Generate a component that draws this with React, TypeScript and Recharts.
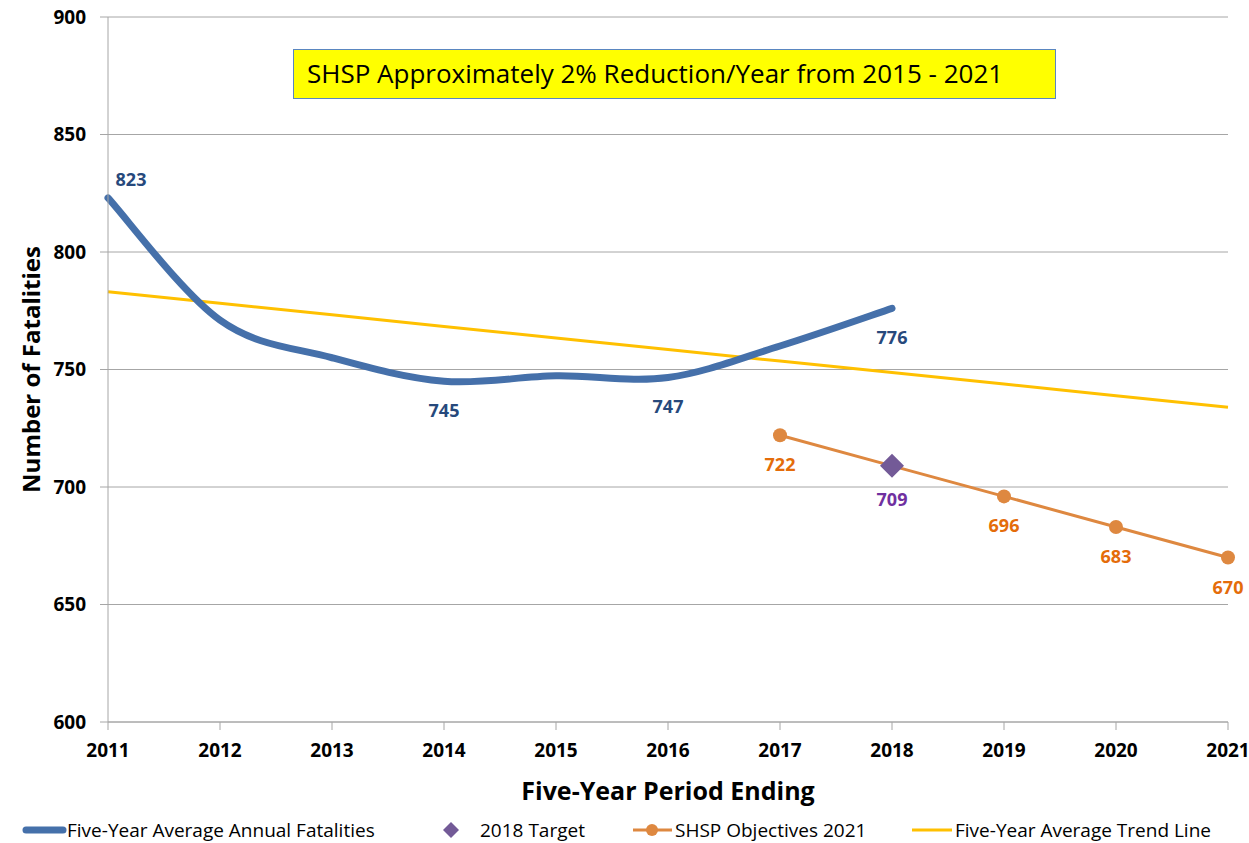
import React from "react";
import { ComposedChart, Line, XAxis, YAxis, CartesianGrid, Legend, LabelList } from "recharts";

const years = [2011, 2012, 2013, 2014, 2015, 2016, 2017, 2018, 2019, 2020, 2021];
const fatalities = [823, 771, 755, 745, 747.3, 746.6, 760, 776, null, null, null];
const target2018 = [null, null, null, null, null, null, null, 709, null, null, null];
const objectives = [null, null, null, null, null, null, 722, 709, 696, 683, 670];
const trendLine = [783.1, 778.2, 773.3, 768.3, 763.4, 758.5, 753.6, 748.7, 743.8, 738.8, 733.9];
const labelledYears = [2011, 2014, 2016, 2018];
const yTicks = [600, 650, 700, 750, 800, 850, 900];

const data = years.map((year, i) => ({
  year,
  fatal: fatalities[i],
  target: target2018[i],
  shsp: objectives[i],
  trend: trendLine[i],
}));

const FONT = "'Open Sans', 'Liberation Sans', sans-serif";
const BLUE = "#4570AA";
const BLUE_TEXT = "#27497C";
const ORANGE = "#DE8840";
const ORANGE_TEXT = "#E46C0A";
const PURPLE = "#735A97";
const PURPLE_TEXT = "#7030A0";
const YELLOW = "#FFC000";
const GRID = "#A6A6A6";

// Excel-style smoothed line (Catmull-Rom as cubic beziers)
function excelSmooth(context: any) {
  let pts: number[][] = [];
  return {
    areaStart() {},
    areaEnd() {},
    lineStart() {
      pts = [];
    },
    point(x: number, y: number) {
      pts.push([+x, +y]);
    },
    lineEnd() {
      if (!pts.length) return;
      context.moveTo(pts[0][0], pts[0][1]);
      for (let i = 0; i < pts.length - 1; i++) {
        const p0 = pts[i - 1] || pts[i];
        const p1 = pts[i];
        const p2 = pts[i + 1];
        const p3 = pts[i + 2] || p2;
        context.bezierCurveTo(
          p1[0] + (p2[0] - p0[0]) / 6,
          p1[1] + (p2[1] - p0[1]) / 6,
          p2[0] - (p3[0] - p1[0]) / 6,
          p2[1] - (p3[1] - p1[1]) / 6,
          p2[0],
          p2[1]
        );
      }
    },
  };
}

function FatalLabel(props: any) {
  const { x, y, value, index } = props;
  if (value == null || !labelledYears.includes(years[index])) return null;
  const first = index === 0;
  return (
    <text
      x={first ? x + 23 : x}
      y={first ? y - 19 : y + 29}
      textAnchor="middle"
      dominantBaseline="central"
      fill={BLUE_TEXT}
      fontFamily={FONT}
      fontWeight="bold"
      fontSize={18}
    >
      {Math.round(value)}
    </text>
  );
}

function belowLabel(color: string, dy: number, skipTarget = false) {
  return (props: any) => {
    const { x, y, value, index } = props;
    if (value == null) return null;
    // the 2018 point carries the purple target label instead
    if (skipTarget && target2018[index] != null) return null;
    return (
      <text
        x={x}
        y={y + dy}
        textAnchor="middle"
        dominantBaseline="central"
        fill={color}
        fontFamily={FONT}
        fontWeight="bold"
        fontSize={18}
      >
        {value}
      </text>
    );
  };
}

function Diamond(props: any) {
  const { cx, cy, value } = props;
  if (value == null || cx == null || cy == null) return null;
  const s = 12;
  return (
    <path
      d={`M${cx},${cy - s}L${cx + s},${cy}L${cx},${cy + s}L${cx - s},${cy}Z`}
      fill={PURPLE}
    />
  );
}

function YTitle(props: any) {
  const { viewBox } = props;
  const cy = viewBox.y + viewBox.height / 2;
  return (
    <text
      x={30}
      y={cy}
      transform={`rotate(-90, 30, ${cy})`}
      textAnchor="middle"
      dominantBaseline="central"
      fontFamily={FONT}
      fontWeight="bold"
      fontSize={24}
      fill="#000"
    >
      Number of Fatalities
    </text>
  );
}

function XTitle(props: any) {
  const { viewBox } = props;
  return (
    <text
      x={viewBox.x + viewBox.width / 2}
      y={790}
      textAnchor="middle"
      dominantBaseline="central"
      fontFamily={FONT}
      fontWeight="bold"
      fontSize={25}
      fill="#000"
    >
      Five-Year Period Ending
    </text>
  );
}

function ChartLegend() {
  const cy = 13;
  const text = { fontFamily: FONT, fontSize: 19, fill: "#000", dominantBaseline: "central" as const };
  return (
    <svg width={1249} height={26}>
      <line x1={26} x2={63} y1={cy} y2={cy} stroke={BLUE} strokeWidth={7} strokeLinecap="round" />
      <text x={67} y={cy} {...text}>Five-Year Average Annual Fatalities</text>
      <path d={`M451,${cy - 8}L459,${cy}L451,${cy + 8}L443,${cy}Z`} fill={PURPLE} />
      <text x={480} y={cy} {...text}>2018 Target</text>
      <line x1={633} x2={672} y1={cy} y2={cy} stroke={ORANGE} strokeWidth={3} />
      <circle cx={652} cy={cy} r={6} fill={ORANGE} />
      <text x={675} y={cy} {...text}>SHSP Objectives 2021</text>
      <line x1={912} x2={952} y1={cy} y2={cy} stroke={YELLOW} strokeWidth={3} />
      <text x={955} y={cy} {...text}>Five-Year Average Trend Line</text>
    </svg>
  );
}

export default function App() {
  return (
    <div style={{ position: "absolute", left: 0, top: 0, width: 1249, height: 843, background: "#fff" }}>
      <ComposedChart
        width={1249}
        height={843}
        data={data}
        margin={{ top: 17, right: 21, left: 0, bottom: 0 }}
      >
        <CartesianGrid vertical={false} stroke={GRID} strokeWidth={1} />
        <XAxis
          dataKey="year"
          type="number"
          domain={[2011, 2021]}
          ticks={years}
          height={95}
          tickSize={8}
          tickMargin={14}
          stroke={GRID}
          tick={{ fill: "#000", fontFamily: FONT, fontWeight: "bold", fontSize: 19 }}
          label={<XTitle />}
        />
        <YAxis
          domain={[600, 900]}
          ticks={yTicks}
          width={108}
          tickSize={8}
          tickMargin={14}
          stroke={GRID}
          tick={{ fill: "#000", fontFamily: FONT, fontWeight: "bold", fontSize: 19 }}
          label={<YTitle />}
        />
        <Legend
          verticalAlign="bottom"
          content={<ChartLegend />}
          wrapperStyle={{ left: 0, bottom: 0, width: 1249, height: 26 }}
        />
        <Line
          dataKey="trend"
          type="linear"
          stroke={YELLOW}
          strokeWidth={3}
          dot={false}
          isAnimationActive={false}
          name="Five-Year Average Trend Line"
        />
        <Line
          dataKey="fatal"
          type={excelSmooth as any}
          stroke={BLUE}
          strokeWidth={7}
          strokeLinecap="round"
          dot={false}
          isAnimationActive={false}
          name="Five-Year Average Annual Fatalities"
        >
          <LabelList dataKey="fatal" content={<FatalLabel />} />
        </Line>
        <Line
          dataKey="shsp"
          type="linear"
          stroke={ORANGE}
          strokeWidth={3}
          dot={{ r: 7, fill: ORANGE, stroke: ORANGE, strokeWidth: 0 }}
          isAnimationActive={false}
          name="SHSP Objectives 2021"
        >
          <LabelList dataKey="shsp" content={belowLabel(ORANGE_TEXT, 29, true)} />
        </Line>
        <Line
          dataKey="target"
          stroke="none"
          dot={<Diamond />}
          isAnimationActive={false}
          name="2018 Target"
        >
          <LabelList dataKey="target" content={belowLabel(PURPLE_TEXT, 33)} />
        </Line>
      </ComposedChart>
      <div
        style={{
          position: "absolute",
          left: 293,
          top: 49,
          width: 763,
          height: 50,
          boxSizing: "border-box",
          background: "#FFFF00",
          border: "1.5px solid #5A86C0",
          fontFamily: FONT,
          fontSize: 26,
          lineHeight: "46px",
          paddingLeft: 13,
          color: "#000",
          whiteSpace: "nowrap",
        }}
      >
        SHSP Approximately 2% Reduction/Year from 2015 - 2021
      </div>
    </div>
  );
}
